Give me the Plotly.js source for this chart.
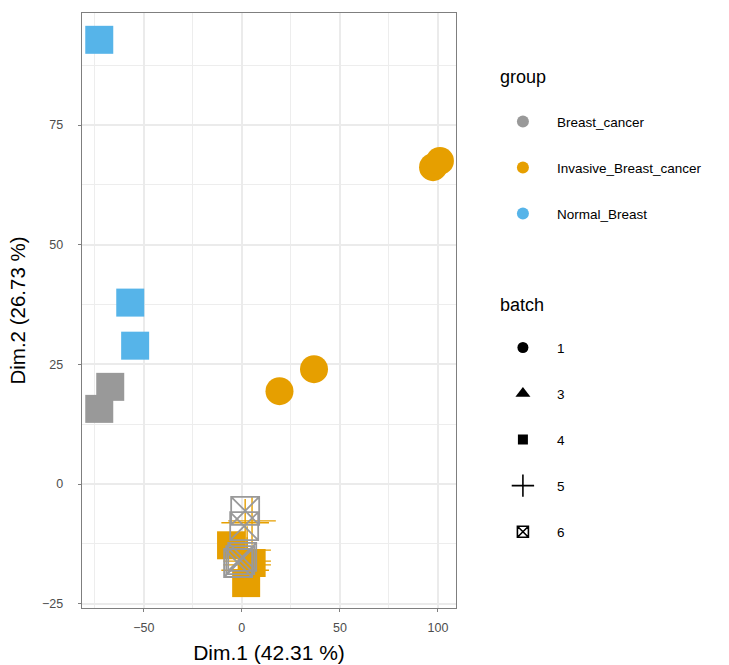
<!DOCTYPE html>
<html>
<head>
<meta charset="utf-8">
<script src="https://cdn.plot.ly/plotly-3.0.1.min.js"></script>
<style>html,body{margin:0;padding:0;background:#fff;}#chart{width:729px;height:665px;}</style>
</head>
<body>
<div id="chart"></div>
<script>
// ---- data ----
const dim1  = [-72.7, -56.9, -54.4, -67.1, -72.7, 97.5, 101.0, 19.2, 36.8,
               -5.5, 5.0, 2.2,
               5.2, 1.7, 2.7, 2.7, 2.7, 1.7,
               1.7, 1.2, 0.2, -0.8, -1.9];
const dim2  = [92.8, 37.9, 28.9, 20.3, 15.7, 66.2, 67.5, 19.4, 24.0,
               -12.8, -16.5, -20.7,
               -7.7, -8.1, -13.8, -16.1, -16.9, -18.0,
               -5.6, -8.8, -15.2, -15.9, -16.5];
const group = ["Normal_Breast","Normal_Breast","Normal_Breast","Breast_cancer","Breast_cancer",
               "Invasive_Breast_cancer","Invasive_Breast_cancer","Invasive_Breast_cancer","Invasive_Breast_cancer",
               "Invasive_Breast_cancer","Invasive_Breast_cancer","Invasive_Breast_cancer",
               "Invasive_Breast_cancer","Invasive_Breast_cancer","Invasive_Breast_cancer",
               "Invasive_Breast_cancer","Invasive_Breast_cancer","Invasive_Breast_cancer",
               "Breast_cancer","Breast_cancer","Breast_cancer","Breast_cancer","Breast_cancer"];
const batch = ["4","4","4","4","4","1","1","1","1",
               "4","4","4",
               "5","5","5","5","5","5",
               "6","6","6","6","6"];

const groupLevels = ["Breast_cancer","Invasive_Breast_cancer","Normal_Breast"];
const batchLevels = ["1","3","4","5","6"];
const xTitle = "Dim.1 (42.31 %)";
const yTitle = "Dim.2 (26.73 %)";
const groupTitle = "group";
const batchTitle = "batch";

// ---- styles ----
const groupColor = {"Breast_cancer":"#999999","Invasive_Breast_cancer":"#E69F00","Normal_Breast":"#56B4E9"};
const batchSymbol = {"1":"circle","3":"triangle-up","4":"square","5":"cross-thin-open","6":"square-x-open"};
const batchSize = {"1":28,"3":28,"4":28,"5":34,"6":28};
const legendSymSize = {"1":11,"3":13,"4":10,"5":16,"6":11};

const traces = [];
// draw order: plus marks underneath, then filled marks, then grey square-x on top
const drawSteps = [["Invasive_Breast_cancer","5"],["Normal_Breast","4"],["Breast_cancer","4"],
                   ["Invasive_Breast_cancer","1"],["Invasive_Breast_cancer","4"],["Breast_cancer","6"]];
drawSteps.forEach(([g, b]) => {
  const xs = [], ys = [];
  for (let i = 0; i < dim1.length; i++) {
    if (group[i] === g && batch[i] === b) { xs.push(dim1[i]); ys.push(dim2[i]); }
  }
  if (!xs.length) return;
  const open = b === "5" || b === "6";
  traces.push({
    type: "scatter", mode: "markers", x: xs, y: ys, showlegend: false, hoverinfo: "skip",
    marker: {
      symbol: batchSymbol[b], size: batchSize[b], color: groupColor[g],
      line: open ? {color: groupColor[g], width: b === "6" ? 1.8 : 1.4} : {width: 0}
    }
  });
});
// legend entries: group
groupLevels.forEach((g, k) => {
  traces.push({type:"scatter", mode:"markers", x:[null], y:[null], name:g, legend:"legend",
    legendgroup:"g"+k, showlegend:true,
    marker:{symbol:"circle", size:12, color:groupColor[g], line:{width:0}}});
});
// legend entries: batch
batchLevels.forEach((b, k) => {
  const open = b === "5" || b === "6";
  traces.push({type:"scatter", mode:"markers", x:[null], y:[null], name:b, legend:"legend2",
    legendgroup:"b"+k, showlegend:true,
    marker:{symbol:batchSymbol[b], size:legendSymSize[b], color:"#000000",
      line: open ? {color:"#000000", width:1.6} : {width:0}}});
});

const fontFam = "Liberation Sans, Arial, sans-serif";
const axisCommon = {
  showline: true, mirror: true, linecolor: "#7F7F7F", linewidth: 1.4,
  zeroline: false, showgrid: true, gridcolor: "#EBEBEB", gridwidth: 2,
  ticks: "outside", ticklen: 3, tickcolor: "#7F7F7F", tickwidth: 1,
  tickfont: {family: fontFam, size: 12.5, color: "#4D4D4D"}
};
const legendCommon = {
  xanchor: "left", yanchor: "top",
  font: {family: fontFam, size: 13.5, color: "#000"},
  traceorder: "grouped", tracegroupgap: 25.5, itemsizing: "trace", itemwidth: 58,
  bgcolor: "rgba(0,0,0,0)"
};
const layout = {
  width: 729, height: 665,
  margin: {l: 82, r: 273, t: 13, b: 57},
  paper_bgcolor: "#ffffff", plot_bgcolor: "#ffffff",
  font: {family: fontFam},
  xaxis: Object.assign({}, axisCommon, {
    range: [-81.5, 109.2], tickvals: [-50, 0, 50, 100], ticktext: ["\u221250","0","50","100"],
    minor: {tickvals: [-75, -25, 25, 75], showgrid: true, gridcolor: "#EDEDED", gridwidth: 1.1, ticks: ""},
    ticklabelstandoff: 5,
    title: {text: xTitle, font: {family: fontFam, size: 21, color: "#000"}, standoff: 11}
  }),
  yaxis: Object.assign({}, axisCommon, {
    range: [-25.9, 98.4], tickvals: [-25, 0, 25, 50, 75], ticktext: ["\u221225","0","25","50","75"],
    minor: {tickvals: [-12.5, 12.5, 37.5, 62.5, 87.5], showgrid: true, gridcolor: "#EDEDED", gridwidth: 1.1, ticks: ""},
    ticklabelstandoff: 12,
    title: {text: yTitle, font: {family: fontFam, size: 20.5, color: "#000"}, standoff: 10}
  }),
  legend: Object.assign({}, legendCommon, {x: 1.088, y: 0.8435}),
  legend2: Object.assign({}, legendCommon, {x: 1.088, y: 0.4635}),
  annotations: [
    {text: groupTitle, xref: "paper", yref: "paper", x: 1.1127, y: (608 - 77) / 595, xanchor: "left", yanchor: "middle",
     showarrow: false, font: {family: fontFam, size: 18, color: "#000"}},
    {text: batchTitle, xref: "paper", yref: "paper", x: 1.1127, y: (608 - 305) / 595, xanchor: "left", yanchor: "middle",
     showarrow: false, font: {family: fontFam, size: 18, color: "#000"}}
  ]
};
Plotly.newPlot("chart", traces, layout, {staticPlot: true, displayModeBar: false});
</script>
</body>
</html>
